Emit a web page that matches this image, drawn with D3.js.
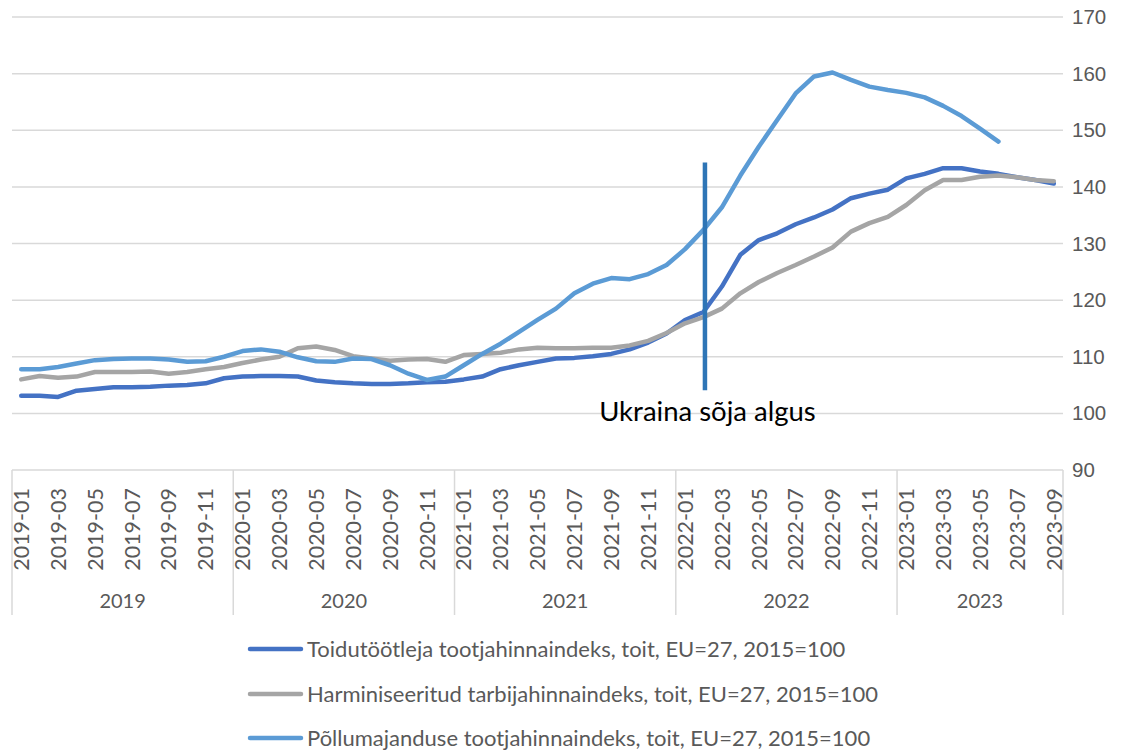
<!DOCTYPE html>
<html>
<head>
<meta charset="utf-8">
<script src="https://cdn.jsdelivr.net/npm/d3@7"></script>
<style>
    body { margin: 0; background: #fff; }
    svg { display: block; font-family: "Lato", "Open Sans", sans-serif; }
</style>
</head>
<body>
<div id="chart"></div>
<script>
(function () {
    'use strict';

    var months = [
        "2019-01", "2019-02", "2019-03", "2019-04", "2019-05", "2019-06", "2019-07", "2019-08", "2019-09", "2019-10", "2019-11", "2019-12",
        "2020-01", "2020-02", "2020-03", "2020-04", "2020-05", "2020-06", "2020-07", "2020-08", "2020-09", "2020-10", "2020-11", "2020-12",
        "2021-01", "2021-02", "2021-03", "2021-04", "2021-05", "2021-06", "2021-07", "2021-08", "2021-09", "2021-10", "2021-11", "2021-12",
        "2022-01", "2022-02", "2022-03", "2022-04", "2022-05", "2022-06", "2022-07", "2022-08", "2022-09", "2022-10", "2022-11", "2022-12",
        "2023-01", "2023-02", "2023-03", "2023-04", "2023-05", "2023-06", "2023-07", "2023-08", "2023-09"
    ];
    var years = ["2019", "2020", "2021", "2022", "2023"];
    var yTicks = [90, 100, 110, 120, 130, 140, 150, 160, 170];

    var seriesNames = [
        "Toidutöötleja tootjahinnaindeks, toit, EU=27, 2015=100",
        "Harminiseeritud tarbijahinnaindeks, toit, EU=27, 2015=100",
        "Põllumajanduse tootjahinnaindeks, toit, EU=27, 2015=100"
    ];
    var seriesColors = ["#4472C4", "#A5A5A5", "#5B9BD5"];

    var toidutootleja = [
        103.1, 103.1, 102.9, 104.0, 104.3, 104.6, 104.6, 104.7, 104.9, 105.0, 105.3, 106.2,
        106.5, 106.6, 106.6, 106.5, 105.8, 105.5, 105.3, 105.2, 105.2, 105.3, 105.5, 105.6,
        106.0, 106.5, 107.8, 108.5, 109.1, 109.7, 109.8, 110.1, 110.5, 111.3, 112.5, 114.1,
        116.5, 117.9, 122.4, 128.0, 130.6, 131.8, 133.4, 134.6, 136.0, 138.0, 138.8, 139.5,
        141.5, 142.3, 143.3, 143.3, 142.7, 142.3, 141.7, 141.2, 140.6
    ];
    var tarbija = [
        106.0, 106.6, 106.3, 106.5, 107.3, 107.3, 107.3, 107.4, 107.0, 107.3, 107.8, 108.2,
        108.9, 109.5, 110.0, 111.5, 111.8, 111.2, 110.1, 109.7, 109.3, 109.5, 109.6, 109.1,
        110.3, 110.5, 110.7, 111.3, 111.6, 111.5, 111.5, 111.6, 111.6, 112.0, 112.8, 114.2,
        115.9, 117.0, 118.5, 121.2, 123.2, 124.8, 126.2, 127.7, 129.3, 132.1, 133.6, 134.7,
        136.8, 139.4, 141.2, 141.2, 141.8, 142.0, 141.7, 141.2, 141.0
    ];
    var pollumajandus = [
        107.8, 107.8, 108.2, 108.8, 109.4, 109.6, 109.7, 109.7, 109.5, 109.1, 109.2, 110.0,
        111.0, 111.3, 110.9, 109.9, 109.2, 109.1, 109.7, 109.6, 108.5, 107.0, 105.9, 106.5,
        108.5, 110.5, 112.3, 114.4, 116.5, 118.5, 121.2, 122.9, 123.9, 123.7, 124.6, 126.2,
        129.0, 132.4, 136.4, 142.0, 147.1, 151.8, 156.5, 159.5, 160.2, 158.9, 157.7, 157.1,
        156.6, 155.8, 154.3, 152.5, 150.3, 148.0, null, null, null
    ];
    var seriesValues = [toidutootleja, tarbija, pollumajandus];

    // war start marker
    var markerMonth = "2022-02";
    var markerRange = [104.1, 144.3];
    var markerText = "Ukraina sõja algus";

    var width = 1127, height = 754;
    var left = 12, right = 1063, top = 17, bottom = 470;

    var svg = d3.select("#chart").append("svg")
        .attr("width", width)
        .attr("height", height);

    var x = d3.scaleBand().domain(months).range([left, right]).padding(0);
    var y = d3.scaleLinear().domain([90, 170]).range([bottom, top]);

    // gridlines
    svg.append("g").selectAll("line.grid")
        .data(yTicks.slice(1))
        .enter().append("line")
        .attr("class", "grid")
        .attr("x1", left).attr("x2", right)
        .attr("y1", function (d) { return y(d); })
        .attr("y2", function (d) { return y(d); })
        .attr("stroke", "#D9D9D9")
        .attr("stroke-width", 1.5);

    // y labels (right side)
    var yAxis = d3.axisRight(y).tickValues(yTicks).tickSize(0).tickPadding(0);
    var yg = svg.append("g")
        .attr("transform", "translate(1072,0)")
        .call(yAxis);
    yg.select(".domain").remove();
    yg.selectAll("text")
        .attr("fill", "#595959")
        .style("font-size", "20.5px");

    // category axis frame
    var axisG = svg.append("g");
    axisG.append("line")
        .attr("x1", left).attr("x2", right)
        .attr("y1", bottom).attr("y2", bottom)
        .attr("stroke", "#D9D9D9").attr("stroke-width", 1.5);

    var yearBounds = years.map(function (yr) {
        var ms = months.filter(function (m) { return m.slice(0, 4) === yr; });
        return { year: yr, x0: x(ms[0]), x1: x(ms[ms.length - 1]) + x.bandwidth() };
    });
    var sepX = [left].concat(yearBounds.map(function (d) { return d.x1; }));

    axisG.selectAll("line.sep")
        .data(sepX)
        .enter().append("line")
        .attr("class", "sep")
        .attr("x1", function (d) { return d; })
        .attr("x2", function (d) { return d; })
        .attr("y1", bottom).attr("y2", 615)
        .attr("stroke", "#D9D9D9").attr("stroke-width", 1.5);

    // month labels, every second month, rotated
    var monthLabels = months.filter(function (m, i) { return i % 2 === 0; });
    axisG.selectAll("text.month")
        .data(monthLabels)
        .enter().append("text")
        .attr("class", "month")
        .attr("transform", function (d) {
            return "translate(" + (x(d) + x.bandwidth() / 2) + ",488) rotate(-90)";
        })
        .attr("dy", "0.36em")
        .attr("text-anchor", "end")
        .attr("fill", "#595959")
        .style("font-size", "21.5px")
        .text(function (d) { return d; });

    axisG.selectAll("text.year")
        .data(yearBounds)
        .enter().append("text")
        .attr("class", "year")
        .attr("x", function (d) { return (d.x0 + d.x1) / 2; })
        .attr("y", 608)
        .attr("text-anchor", "middle")
        .attr("fill", "#595959")
        .style("font-size", "20px")
        .text(function (d) { return d.year; });

    // series lines
    var line = d3.line()
        .defined(function (d) { return d.v !== null; })
        .x(function (d) { return x(d.m) + x.bandwidth() / 2; })
        .y(function (d) { return y(d.v); });

    svg.append("g").selectAll("path.series")
        .data(seriesValues)
        .enter().append("path")
        .attr("class", "series")
        .attr("fill", "none")
        .attr("stroke", function (d, i) { return seriesColors[i]; })
        .attr("stroke-width", 4.5)
        .attr("stroke-linejoin", "round")
        .attr("stroke-linecap", "round")
        .attr("d", function (vals) {
            return line(vals.map(function (v, i) { return { m: months[i], v: v }; }));
        });

    // marker line + label
    var mx = x(markerMonth) + x.bandwidth() / 2;
    svg.append("line")
        .attr("x1", mx + 1.5).attr("x2", mx + 1.5)
        .attr("y1", y(markerRange[1])).attr("y2", y(markerRange[0]))
        .attr("stroke", "#2E75B6")
        .attr("stroke-width", 4.5);

    svg.append("text")
        .attr("x", mx + 4)
        .attr("y", 421)
        .attr("text-anchor", "middle")
        .attr("fill", "#000")
        .style("font-size", "27.5px")
        .text(markerText);

    // legend
    var legendY = [649, 694, 738];
    var legend = svg.append("g").selectAll("g.legend")
        .data(seriesNames)
        .enter().append("g")
        .attr("class", "legend")
        .attr("transform", function (d, i) { return "translate(0," + legendY[i] + ")"; });

    legend.append("line")
        .attr("x1", 250).attr("x2", 301)
        .attr("y1", 0).attr("y2", 0)
        .attr("stroke", function (d, i) { return seriesColors[i]; })
        .attr("stroke-width", 4.5)
        .attr("stroke-linecap", "round");

    legend.append("text")
        .attr("x", 307)
        .attr("y", 0)
        .attr("dy", "0.35em")
        .attr("fill", "#595959")
        .style("font-size", "22px")
        .text(function (d) { return d; });
})();
</script>
</body>
</html>
